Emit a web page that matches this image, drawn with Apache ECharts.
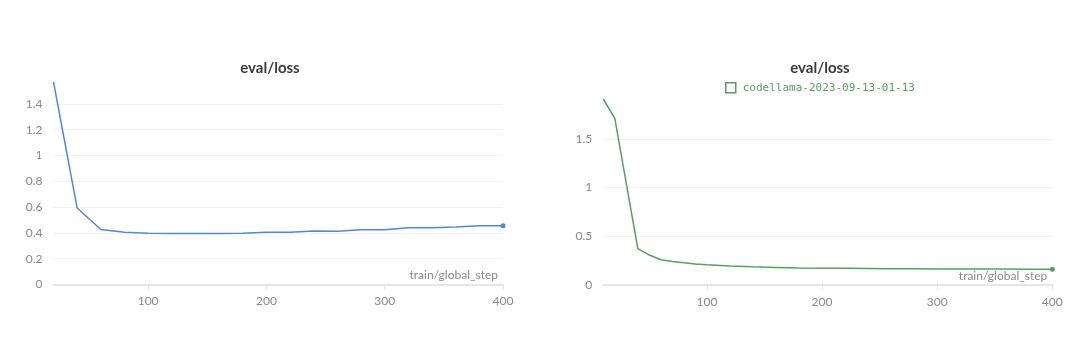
<!DOCTYPE html>
<html>
<head>
<meta charset="utf-8">
<script src="https://cdn.jsdelivr.net/npm/echarts@6/dist/echarts.min.js"></script>
<style>html,body{margin:0;padding:0;background:#fff}#c{width:1080px;height:362px}</style>
</head>
<body>
<div id="c"></div>
<script>
// ---- data ----
const leftSteps = [20,40,60,80,100,120,140,160,180,200,220,240,260,280,300,320,340,360,380,400];
const leftLoss  = [1.57,0.593,0.426,0.405,0.398,0.395,0.395,0.396,0.397,0.405,0.406,0.414,0.413,0.424,0.425,0.44,0.44,0.445,0.455,0.455];
const rightSteps = [10,20,30,40,50,60,70,80,90,100,120,140,160,180,200,220,240,260,280,300,320,340,360,380,400];
const rightLoss  = [1.91,1.71,1.04,0.372,0.305,0.256,0.238,0.225,0.213,0.205,0.193,0.184,0.178,0.173,0.17,0.168,0.166,0.164,0.163,0.162,0.162,0.161,0.161,0.16,0.16];
const xTicks = [100,200,300,400];
const leftYTicks = [0,0.2,0.4,0.6,0.8,1,1.2,1.4];
const rightYTicks = [0,0.5,1,1.5];
const titleText = 'eval/loss';
const xName = 'train/global_step';
const runName = 'codellama-2023-09-13-01-13';

const blue = '#5387dd';
const green = '#5a9e62';
const font = 'Lato';

function pairs(xs, ys){ return xs.map((x,i)=>[x, ys[i]]); }

function xAxisCfg(gi, min){
  return {
    type:'value', gridIndex:gi, min:min, max:400,
    name:xName, nameLocation:'end', nameGap:-5,
    nameTextStyle:{color:'#888', fontFamily:font, fontSize:12, align:'right', verticalAlign:'bottom', padding:[0,0,3,0]},
    axisLine:{show:true, lineStyle:{color:'#e6e6e6', width:2}},
    axisTick:{show:true, length:5, lineStyle:{color:'#e0e0e0'}, customValues:xTicks},
    axisLabel:{color:'#888', fontFamily:font, fontSize:12, margin:11, customValues:xTicks},
    splitLine:{show:false}
  };
}
function yAxisCfg(gi, ticks){
  return {
    type:'value', gridIndex:gi, min:0, max:'dataMax',
    axisLine:{show:false},
    axisTick:{show:false, customValues:ticks},
    axisLabel:{color:'#888', fontFamily:font, fontSize:12, margin:11, customValues:ticks},
    splitLine:{show:true, lineStyle:{color:'#f2f2f2', width:1}}
  };
}
function lastDot(n){
  return function(v, p){ return p.dataIndex === n-1 ? 'circle' : 'none'; };
}

const chart = echarts.init(document.getElementById('c'), null, {renderer:'canvas'});
chart.setOption({
  animation:false,
  title:[
    {text:titleText, left:265, top:56, textAlign:'center', textStyle:{fontFamily:font, fontSize:15, fontWeight:'bold', color:'#3a3a3a'}},
    {text:titleText, left:815, top:56, textAlign:'center', textStyle:{fontFamily:font, fontSize:15, fontWeight:'bold', color:'#3a3a3a'}}
  ],
  legend:{
    data:[runName], left:720, top:77, itemWidth:10, itemHeight:10, itemGap:5,
    icon:'rect',
    itemStyle:{color:'#ffffff', borderColor:green, borderWidth:1.5},
    textStyle:{color:green, fontFamily:'DejaVu Sans Mono', fontSize:11, padding:[0,0,0,2]}
  },
  grid:[
    {left:53.5, top:82, width:449.5, height:202.5},
    {left:603.3, top:99, width:449, height:185.7}
  ],
  xAxis:[xAxisCfg(0,20), xAxisCfg(1,10)],
  yAxis:[yAxisCfg(0,leftYTicks), yAxisCfg(1,rightYTicks)],
  series:[
    {type:'line', name:'left-run', xAxisIndex:0, yAxisIndex:0, data:pairs(leftSteps,leftLoss),
     lineStyle:{color:blue, width:1.5}, itemStyle:{color:blue}, showAllSymbol:true,
     symbol:lastDot(leftSteps.length), symbolSize:5},
    {type:'line', name:runName, xAxisIndex:1, yAxisIndex:1, data:pairs(rightSteps,rightLoss),
     lineStyle:{color:green, width:1.5}, itemStyle:{color:green}, showAllSymbol:true,
     symbol:lastDot(rightSteps.length), symbolSize:5}
  ]
});
</script>
</body>
</html>
